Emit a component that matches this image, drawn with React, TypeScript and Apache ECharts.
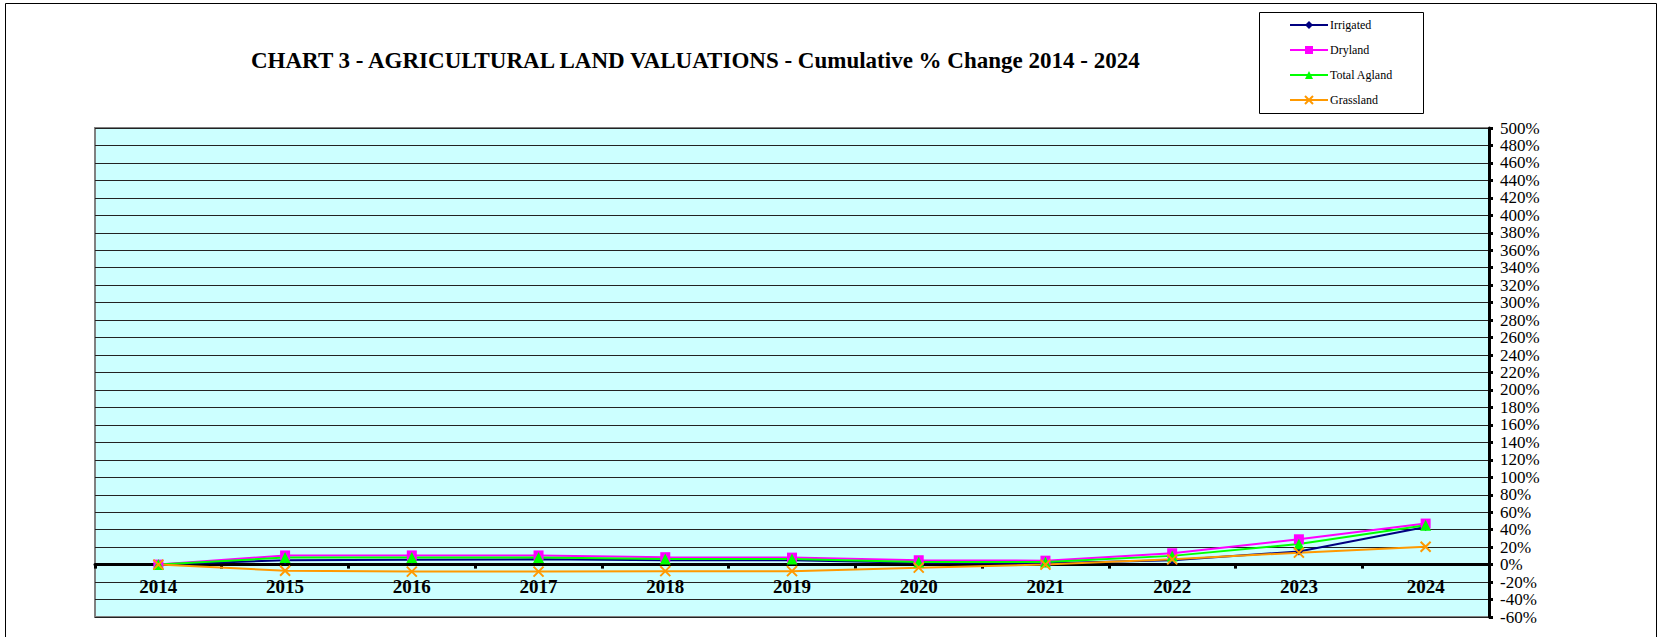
import React, { useEffect, useRef } from "react";
import * as echarts from "echarts";

const years = ["2014", "2015", "2016", "2017", "2018", "2019", "2020", "2021", "2022", "2023", "2024"];
const irrigated = [0, 5, 5.5, 6, 5, 5, 2, 1.5, 5, 15, 43];
const dryland = [0, 10.5, 10.5, 10.5, 8.5, 8, 5, 4.5, 13, 29, 47];
const totalAgland = [0, 8, 8, 8, 6.5, 6.5, 3, 3, 10, 23.5, 45];
const grassland = [0, -7, -8, -8, -7.5, -7.5, -3.5, 0, 6, 13.7, 20.5];

const titleText = "CHART 3 - AGRICULTURAL LAND VALUATIONS - Cumulative % Change 2014 - 2024";
const FONT = '"Liberation Serif", "Times New Roman", serif';

export default function App() {
  const ref = useRef<HTMLDivElement>(null);
  useEffect(() => {
    if (!ref.current) return;
    const chart = echarts.init(ref.current, undefined, { renderer: "svg" });
    const mk = (name: string, data: number[], color: string, symbol: string, size: number, extra: any = {}) => ({
      name,
      type: "line",
      data,
      symbol,
      symbolSize: size,
      lineStyle: { color, width: 2 },
      itemStyle: { color, ...extra },
      emphasis: { disabled: true },
    });
    chart.setOption({
      animation: false,
      backgroundColor: "#ffffff",
      title: {
        text: titleText,
        left: 246,
        top: 44,
        textStyle: { fontFamily: FONT, fontWeight: "bold", fontSize: 23, color: "#000" },
      },
      legend: {
        orient: "vertical",
        left: 1289,
        top: 19,
        padding: 0,
        itemWidth: 38,
        itemHeight: 10,
        itemGap: 13,
        textStyle: { fontFamily: FONT, fontSize: 12, color: "#000", padding: [0, 0, 0, -3] },
        data: ["Irrigated", "Dryland", "Total Agland", "Grassland"],
      },
      grid: {
        left: 95,
        top: 128,
        right: 171,
        bottom: 20,
        containLabel: false,
        outerBoundsMode: "none",
        show: true,
        backgroundColor: "#CCFFFF",
        borderColor: "#808080",
        borderWidth: 2,
      },
      xAxis: {
        type: "category",
        data: years,
        boundaryGap: true,
        axisLine: { onZero: true, lineStyle: { color: "#000", width: 3 } },
        axisTick: { show: true, length: 4, lineStyle: { color: "#000", width: 3 } },
        axisLabel: { fontFamily: FONT, fontWeight: "bold", fontSize: 19, color: "#000", margin: -40 },
        splitLine: { show: false },
      },
      yAxis: {
        type: "value",
        position: "right",
        min: -60,
        max: 500,
        interval: 20,
        axisLine: { show: true, lineStyle: { color: "#000", width: 3 } },
        axisTick: { show: true, length: 4, lineStyle: { color: "#000", width: 3 } },
        axisLabel: {
          fontFamily: FONT,
          fontSize: 17,
          color: "#000",
          margin: 11,
          formatter: "{value}%",
          showMinLabel: true,
          showMaxLabel: true,
          hideOverlap: false,
        },
        splitLine: { show: true, lineStyle: { color: "#222", width: 1 } },
      },
      graphic: [
        {
          type: "rect",
          z: -10,
          shape: { x: 5.5, y: 3.5, width: 1651, height: 660 },
          style: { fill: "none", stroke: "#000", lineWidth: 1 },
          silent: true,
        },
        {
          type: "rect",
          z: -5,
          shape: { x: 1259.5, y: 12.5, width: 164, height: 101 },
          style: { fill: "#fff", stroke: "#000", lineWidth: 1 },
          silent: true,
        },
      ],
      series: [
        mk("Irrigated", irrigated, "#000080", "diamond", 8),
        mk("Dryland", dryland, "#FF00FF", "rect", 10),
        mk("Total Agland", totalAgland, "#00FF00", "triangle", 11),
        mk("Grassland", grassland, "#FF9900", "path://M0,0L10,10M10,0L0,10", 10, {
          borderColor: "#FF9900",
          borderWidth: 2,
        }),
      ],
    });
    return () => chart.dispose();
  }, []);
  return <div ref={ref} style={{ position: "fixed", left: 0, top: 0, width: 1660, height: 637 }} />;
}
